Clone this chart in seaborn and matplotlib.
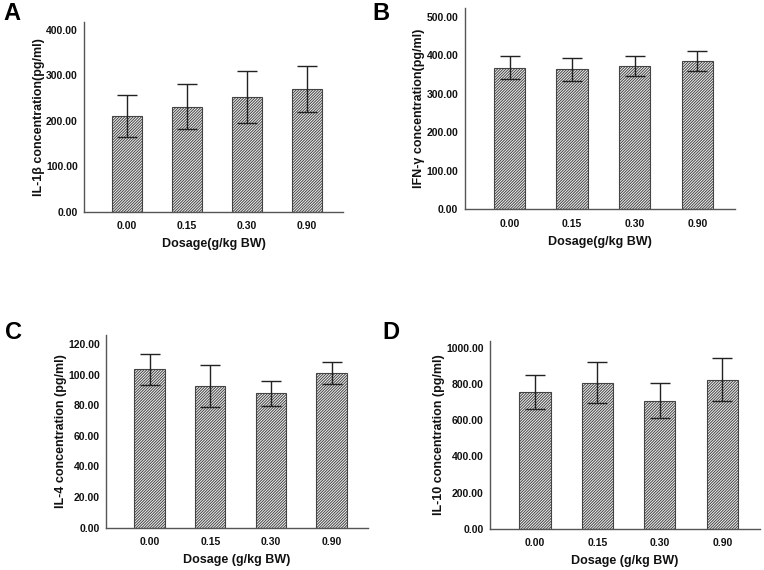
import matplotlib
matplotlib.use("Agg")
import matplotlib.pyplot as plt
import seaborn as sns
import pandas as pd

dosages = ["0.00", "0.15", "0.30", "0.90"]

il1b_mean = [211, 231, 252, 270]
il1b_err = [46, 50, 58, 51]

ifng_mean = [368, 363, 372, 384]
ifng_err = [29, 30, 26, 26]

il4_mean = [103.4, 92.8, 87.8, 101.0]
il4_err = [10.0, 13.7, 8.3, 7.4]

il10_mean = [755, 808, 708, 824]
il10_err = [95, 115, 95, 120]

sns.set_style("white")
plt.rcParams["font.family"] = ["Liberation Sans", "DejaVu Sans"]
plt.rcParams["hatch.linewidth"] = 0.7
plt.rcParams["hatch.color"] = "#333333"
plt.rcParams["text.color"] = "#111111"
plt.rcParams["axes.labelcolor"] = "#111111"
plt.rcParams["xtick.color"] = "#111111"
plt.rcParams["ytick.color"] = "#111111"

fig = plt.figure(figsize=(7.64, 5.7), dpi=100)

panels = [
    # letter, means, errs, ylabel, xlabel, ticks, ylim top, axes rect, letter pos
    ("A", il1b_mean, il1b_err, "IL-1\u03b2 concentration(pg/ml)", "Dosage(g/kg BW)",
     [0, 100, 200, 300, 400], 417, [0.110, 0.6286, 0.339, 0.3328], (0.004, 0.965)),
    ("B", ifng_mean, ifng_err, "IFN-\u03b3 concentration(pg/ml)", "Dosage(g/kg BW)",
     [0, 100, 200, 300, 400, 500], 522, [0.608, 0.6333, 0.3538, 0.352], (0.487, 0.965)),
    ("C", il4_mean, il4_err, "IL-4 concentration (pg/ml)", "Dosage (g/kg BW)",
     [0, 20, 40, 60, 80, 100, 120], 125.9, [0.1387, 0.0742, 0.343, 0.338], (0.006, 0.405)),
    ("D", il10_mean, il10_err, "IL-10 concentration (pg/ml)", "Dosage (g/kg BW)",
     [0, 200, 400, 600, 800, 1000], 1040, [0.6414, 0.0725, 0.353, 0.33], (0.5, 0.405)),
]

for letter, means, errs, ylab, xlab, ticks, ytop, rect, lpos in panels:
    ax = fig.add_axes(rect)
    df = pd.DataFrame({"dose": dosages, "value": means})
    sns.barplot(data=df, x="dose", y="value", errorbar=None, width=0.5,
                color="#f4f4f4", edgecolor="#444444", linewidth=0.8,
                hatch="////////////", ax=ax)
    ax.errorbar(x=range(len(means)), y=means, yerr=errs, fmt="none",
                ecolor="#222222", elinewidth=1.0, capsize=7, capthick=1.0)
    ax.set_xlim(-0.72, 3.6)
    ax.set_ylim(0, ytop)
    ax.set_yticks(ticks)
    ax.set_yticklabels([f"{t:.2f}" for t in ticks])
    for s in ["top", "right"]:
        ax.spines[s].set_visible(False)
    for s in ["left", "bottom"]:
        ax.spines[s].set_color("#555555")
        ax.spines[s].set_linewidth(1.0)
    ax.tick_params(axis="both", direction="out", length=3, width=1.0,
                   color="#555555", labelsize=7.5, pad=1.5)
    ax.tick_params(axis="x", pad=4)
    for lab in ax.get_xticklabels() + ax.get_yticklabels():
        lab.set_fontweight("bold")
    ax.set_ylabel(ylab, fontsize=9, fontweight="bold", labelpad=1)
    ax.set_xlabel(xlab, fontsize=9, fontweight="bold", labelpad=5)
    fig.text(lpos[0], lpos[1], letter, fontsize=17, fontweight="bold", color="black")

fig.savefig("out.png", dpi=100)
